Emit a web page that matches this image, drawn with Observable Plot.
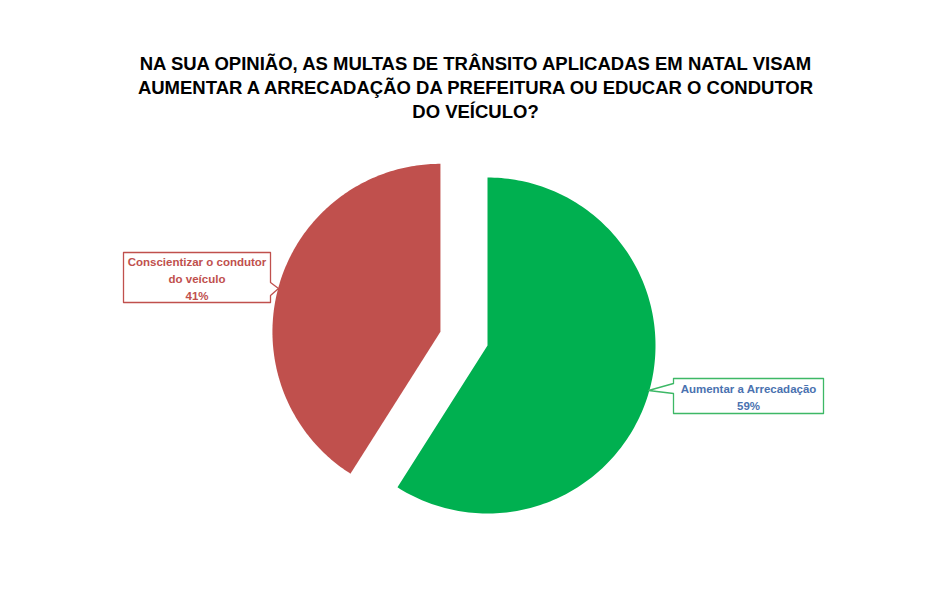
<!DOCTYPE html>
<html><head><meta charset="utf-8">
<script src="https://cdn.jsdelivr.net/npm/d3@7"></script>
<script src="https://cdn.jsdelivr.net/npm/@observablehq/plot@0.6"></script>
<style>
body{margin:0;background:#fff;width:951px;height:606px;overflow:hidden;}
#title{height:140px;box-sizing:border-box;padding-top:52px;text-align:center;font-family:"Liberation Sans",Arial,sans-serif;font-weight:bold;font-size:18.5px;line-height:23.8px;color:#000;}
#chart svg{display:block;}
</style></head><body>
<div id="title"></div>
<div id="chart"></div>
<script>
const titleLines = [
  "NA SUA OPINIÃO, AS MULTAS DE TRÂNSITO APLICADAS EM NATAL VISAM",
  "AUMENTAR A ARRECADAÇÃO DA PREFEITURA OU EDUCAR O CONDUTOR",
  "DO VEÍCULO?"
];
const categories = ["Aumentar a Arrecadação", "Conscientizar o condutor do veículo"];
const values = [59, 41];
const labelLines = [["Aumentar a Arrecadação", "59%"], ["Conscientizar o condutor", "do veículo", "41%"]];
const sliceColors = ["#00B050", "#C0504D"];
const textColors = ["#4A72B0", "#C0504D"];
const boxColors = ["#3DB866", "#C0504D"];

document.getElementById("title").innerHTML = titleLines.join("<br>");

const W = 951, H = 466;
const cx = 487, cy = 205, R = 168, explodeDist = 49;

const arcs = d3.pie().sort(null)(values);
const slicePts = [];
arcs.forEach((a, i) => {
  const mid = (a.startAngle + a.endAngle) / 2;
  const off = i === 1 ? explodeDist : 0;
  const ox = cx + off * Math.sin(mid), oy = cy - off * Math.cos(mid);
  const cat = categories[i];
  slicePts.push({cat, x: ox, y: oy});
  const n = 180;
  for (let k = 0; k <= n; k++) {
    const t = a.startAngle + (a.endAngle - a.startAngle) * k / n;
    slicePts.push({cat, x: ox + R * Math.sin(t), y: oy - R * Math.cos(t)});
  }
});

// callout boxes (layout)
const boxes = [
  {cat: categories[0], x0: 673, x1: 823, y0: 238, y1: 273, side: "left", p0: 243, p1: 253, tx: 648, ty: 250},
  {cat: categories[1], x0: 123, x1: 270, y0: 112, y1: 162, side: "right", p0: 142, p1: 155, tx: 278, ty: 148}
];
const boxPts = [];
boxes.forEach(b => {
  let pts;
  if (b.side === "left") {
    pts = [[b.x0, b.y0], [b.x1, b.y0], [b.x1, b.y1], [b.x0, b.y1], [b.x0, b.p1], [b.tx, b.ty], [b.x0, b.p0], [b.x0, b.y0]];
  } else {
    pts = [[b.x0, b.y0], [b.x1, b.y0], [b.x1, b.p0], [b.tx, b.ty], [b.x1, b.p1], [b.x1, b.y1], [b.x0, b.y1], [b.x0, b.y0]];
  }
  pts.forEach(([x, y]) => boxPts.push({cat: b.cat, x, y}));
});
const labels = boxes.map((b, i) => ({
  cat: b.cat, x: (b.x0 + b.x1) / 2, y: (b.y0 + b.y1) / 2, text: labelLines[i].join("\n"), color: textColors[i]
}));

const chart = Plot.plot({
  width: W, height: H,
  margin: 0,
  x: {domain: [0, W], range: [0, W], axis: null},
  y: {domain: [0, H], range: [0, H], axis: null},
  color: {domain: categories, range: sliceColors},
  style: {background: "#fff"},
  marks: [
    Plot.line(slicePts, {x: "x", y: "y", z: "cat", fill: "cat", stroke: "none", curve: "linear"}),
    Plot.line(boxPts, {x: "x", y: "y", z: "cat", stroke: d => boxColors[categories.indexOf(d.cat)], fill: "white", strokeWidth: 1.3, curve: "linear"}),
    Plot.text(labels, {x: "x", y: "y", text: "text", fill: "color", fontSize: 11.5, fontWeight: "bold", lineHeight: 1.45,
      fontFamily: "'Liberation Sans',Arial,sans-serif"})
  ]
});
document.getElementById("chart").appendChild(chart);
</script>
</body></html>
